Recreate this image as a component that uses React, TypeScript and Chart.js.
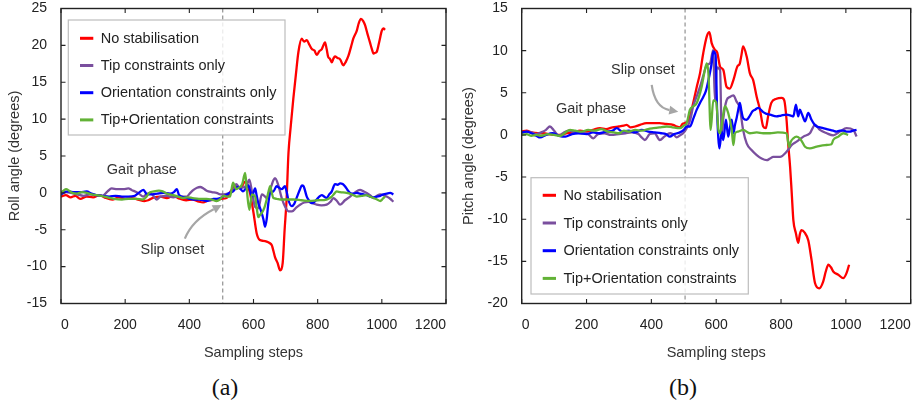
import React, { useEffect, useRef } from "react";
import { Chart, registerables } from "chart.js";

Chart.register(...registerables);

const FONT = '"Liberation Sans", Arial, Helvetica, sans-serif';

const seriesLabels = [
  "No stabilisation",
  "Tip constraints only",
  "Orientation constraints only",
  "Tip+Orientation constraints",
];
const seriesColors = ["#ff0000", "#7a4f9e", "#0000ff", "#62b236"];

const xTickStep = 200;
const xRange = [0, 1200];
const rollRange = [-15, 25];
const pitchRange = [-20, 15];
const yTickStep = 5;
const onsetStep = 504;

// ---------- Roll angle (a) ----------
const rollNoStab: [number, number][] = [
  [0,-0.5],[15,-0.3],[30,-0.6],[45,-0.4],[60,-0.8],[80,-0.5],[100,-0.6],[120,-0.3],[140,-0.7],[160,-0.9],
  [180,-0.6],[200,-0.8],[220,-0.7],[240,-0.9],[260,-1.1],[272,-1.0],[290,-0.6],[310,-0.5],[330,-0.7],[350,-0.4],
  [370,-0.8],[390,-1.0],[410,-0.9],[430,-1.2],[443,-1.3],[460,-1.0],[486,-0.9],[500,-0.8],[516,-0.7],[530,0.3],
  [545,0.9],[560,0.6],[573,1.5],[580,1.2],[589,0],[600,-2.7],[610,-5.5],[620,-6.4],[630,-6.5],[641,-6.6],
  [650,-6.8],[657,-7.1],[667,-8.7],[675,-9.5],[683,-10.5],[691,-9.5],[697,-5],[703,-1],[709,5.4],[716,9],
  [724,12.7],[732,16],[740,19.1],[750,20.9],[758,20.5],[766,20.7],[774,20.1],[782,19.5],[790,19.3],[797,18.7],
  [805,19.2],[813,19.5],[823,20.4],[828,19.5],[833,18.4],[838,18.2],[844,17.7],[849,18.2],[854,18.5],[862,18.3],
  [870,18.1],[880,17.3],[888,17.8],[896,18.6],[904,19.8],[911,20.9],[922,22],[928,23],[935,23.6],[942,23.3],
  [948,22.7],[955,21.6],[963,20.4],[969,19.5],[974,18.9],[980,19.0],[984,19.1],[992,20.5],[1000,22],[1005,22.3],[1010,22.1],
];
const rollTip: [number, number][] = [
  [0,-0.2],[15,0.1],[30,0],[50,-0.2],[70,-0.4],[90,-0.2],[110,-0.3],[130,-0.4],[145,0.2],[158,0.6],
  [175,0.5],[194,0.5],[210,0.6],[220,0.4],[240,0],[256,-0.5],[266,-0.2],[277,0],[288,-0.4],[298,-0.9],
  [310,-0.5],[330,-0.4],[350,-0.6],[370,-0.5],[392,-0.5],[403,0],[413,0.4],[424,0.7],[434,0.8],[444,0.6],
  [454,0.3],[470,0.1],[485,0],[496,-0.2],[506,-0.2],[520,-0.1],[536,0.2],[546,1.2],[557,0.7],[572,0.8],
  [580,1.2],[587,1.8],[595,0.2],[605,-1.9],[615,-2.1],[626,-0.2],[634,-0.4],[641,-0.7],[650,0.2],[657,1.1],
  [662,1.7],[667,2.0],[677,1.1],[688,-0.7],[700,-2.0],[709,-2.5],[720,-2.5],[733,-2.0],[745,-1.6],[758,-1.3],
  [771,-1.2],[784,-1.4],[797,-1.6],[812,-1.7],[828,-1.6],[840,-1.2],[849,-0.7],[860,-1.1],[870,-1.6],[885,-1.0],
  [901,-0.5],[915,0],[932,0.4],[943,0.2],[953,0],[963,-0.3],[974,-0.7],[985,-0.4],[995,-0.2],[1005,-0.3],
  [1015,-0.5],[1026,-0.8],[1036,-1.2],
];
const rollOri: [number, number][] = [
  [0,-0.2],[10,0.1],[25,0.2],[40,0.1],[60,0.1],[80,0.2],[95,-0.1],[110,-0.3],[130,-0.4],[150,-0.5],
  [170,-0.4],[190,-0.5],[210,-0.5],[230,-0.4],[245,0.1],[257,0.4],[268,-0.2],[285,-0.2],[300,-0.1],[320,0],
  [340,-0.1],[352,0.1],[361,0.5],[368,-0.3],[385,-0.6],[400,-0.8],[413,-0.9],[430,-0.9],[445,-1.0],[454,-1.1],
  [466,-1.0],[475,-0.8],[486,-0.8],[496,-0.7],[505,-0.5],[515,-0.3],[525,0],[536,0.2],[551,0.8],[560,0.5],
  [567,0.2],[576,0.6],[584,1.0],[590,0.2],[595,-0.5],[605,0.6],[610,-0.4],[615,-1.4],[620,-2.0],[626,-2.8],
  [631,-3.6],[636,-4.6],[641,-3.6],[646,-1.5],[652,0],[662,0.2],[672,0.9],[680,0.7],[688,0.5],[698,0.9],
  [704,0],[709,-1],[719,-1.8],[727,-1.5],[735,-0.6],[745,0.5],[751,1.0],[756,0.9],[766,-0.5],[774,-1.1],
  [782,-1.4],[790,-1.2],[797,-0.9],[805,-0.5],[813,-0.3],[820,-0.5],[828,-0.7],[836,-0.2],[844,0.2],[850,0.9],
  [854,1.2],[862,1.1],[870,1.3],[878,1.2],[885,0.9],[893,0.4],[901,0],[912,-0.1],[922,0],[932,-0.1],
  [943,-0.2],[953,-0.3],[963,-0.5],[974,-0.6],[984,-0.5],[995,-0.4],[1005,-0.2],[1015,-0.1],[1026,0],[1036,-0.2],
];
const rollTipOri: [number, number][] = [
  [0,0],[8,0.3],[16,0.5],[25,0.3],[35,0],[50,-0.1],[65,0.1],[80,0],[95,-0.2],[110,-0.3],
  [125,-0.4],[145,-0.6],[165,-0.8],[190,-0.9],[210,-0.8],[235,-0.8],[255,-0.9],[265,-0.6],[275,0],[290,0.2],
  [305,0.3],[317,0.2],[330,-0.1],[348,-0.3],[365,-0.5],[380,-0.7],[395,-0.6],[410,-0.7],[430,-0.8],[453,-0.8],
  [470,-0.9],[485,-1.1],[495,-0.9],[506,-0.4],[517,-0.5],[527,-0.5],[536,1.4],[546,0.5],[555,0.7],[565,1.2],
  [574,2.7],[579,0.5],[587,-2.3],[595,-0.2],[605,-0.5],[610,-2.0],[615,-3.3],[620,-3.0],[626,-2.7],[634,-2.0],
  [641,-0.9],[647,0.2],[652,0.9],[657,0],[662,-0.7],[672,-0.8],[683,-0.9],[700,-0.9],[724,-0.9],[750,-1.0],
  [776,-1.1],[800,-1.0],[828,-0.9],[837,-0.7],[844,-0.5],[852,-0.1],[859,0.2],[870,0.1],[890,0],[906,-0.2],
  [922,-0.5],[937,-0.4],[953,-0.3],[963,-0.5],[974,-0.7],[985,-0.9],[995,-1.1],[1003,-0.8],[1010,-0.5],
];

// ---------- Pitch angle (b) ----------
const pitchNoStab: [number, number][] = [
  [0,0.4],[15,0.5],[30,0.3],[50,0.2],[67,0.2],[85,0.1],[100,0],[120,0],[140,0.2],[160,0.3],
  [180,0.5],[200,0.4],[220,0.6],[241,0.8],[260,0.7],[280,0.9],[300,1.0],[315,1.1],[324,1.2],[335,0.9],
  [350,1.0],[365,1.2],[385,1.4],[405,1.4],[425,1.4],[445,1.3],[467,1.2],[478,1.0],[488,0.9],[496,1.3],
  [504,1.4],[512,1.6],[519,2.2],[529,3.8],[540,5.7],[550,7.3],[560,9.7],[571,11.7],[579,12.2],[586,10.9],
  [596,10.1],[603,9.8],[612,8.1],[622,7.7],[632,5.7],[642,5.5],[653,6.5],[665,8.1],[673,8.5],[678,9.5],
  [683,10.5],[694,9.3],[704,7.3],[714,6.5],[725,4.5],[735,3.0],[745,1.0],[753,0.8],[760,2.2],[770,3.8],
  [786,4.3],[802,4.4],[810,4.1],[817,1.8],[822,-1.0],[828,-3.8],[833,-6.9],[838,-10.1],[846,-11.7],[853,-12.8],
  [858,-11.8],[863,-11.3],[873,-11.6],[884,-12.5],[894,-14.8],[905,-17.6],[918,-18.2],[930,-17.4],[938,-16.2],[946,-15.4],
  [954,-15.7],[961,-16.2],[977,-16.6],[992,-17.0],[1002,-16.4],[1010,-15.4],
];
const pitchTip: [number, number][] = [
  [0,0.2],[15,0.4],[30,0.3],[45,0.1],[60,0.3],[75,0.6],[87,1.0],[100,0.5],[115,-0.1],[130,0.3],
  [145,0.5],[165,0.3],[185,0.2],[205,0.1],[221,-0.4],[235,0.1],[255,0.2],[275,0],[300,0.1],[320,0.2],
  [340,0.3],[360,0.1],[370,-0.3],[380,-0.6],[395,0.1],[410,0.2],[426,-0.6],[440,-0.2],[458,0.2],[470,0],
  [478,-0.3],[490,0],[498,0.2],[509,0.8],[520,1.8],[529,3.4],[540,4.6],[550,5.7],[560,7.0],[571,8.3],
  [581,8.5],[591,10.1],[596,4.1],[602,8.0],[612,7.7],[617,-0.2],[622,2.0],[632,4.1],[642,4.5],[653,4.7],
  [663,3.95],[673,3.2],[683,0.6],[694,-1.0],[709,-1.8],[725,-2.4],[740,-2.8],[756,-3.0],[766,-2.8],[776,-2.6],
  [797,-2.6],[817,-2.0],[833,-1.2],[848,-0.8],[869,-0.2],[889,0.2],[905,1.2],[920,0.6],[941,0.2],[961,-0.05],
  [982,0.4],[1002,0.8],[1023,0.6],[1033,-0.2],
];
const pitchOri: [number, number][] = [
  [0,0.3],[15,0.4],[30,0.2],[45,-0.1],[57,-0.3],[75,0],[95,0.2],[115,-0.1],[135,-0.2],[155,0.1],
  [175,0.2],[200,0.1],[220,0.3],[240,0.2],[260,0.4],[280,0.5],[293,0.8],[310,0.4],[330,0.5],[350,0.3],
  [370,0.6],[390,0.4],[410,0.3],[430,0.2],[445,0.1],[457,-0.2],[470,0.1],[488,0.3],[500,0.6],[509,1.0],
  [519,1.0],[530,2.0],[540,3.0],[550,3.8],[560,4.5],[568,5.2],[576,6.5],[586,8.5],[591,9.9],[598,9.5],
  [603,2.6],[610,-1.6],[617,0.4],[622,-0.6],[630,1.8],[637,-0.2],[642,0.8],[648,1.8],[653,0.2],[658,1.2],
  [663,2.0],[668,3.0],[673,3.8],[678,2.8],[683,2.0],[694,1.8],[704,2.3],[712,2.8],[720,3.0],[730,3.2],
  [745,2.7],[755,2.5],[766,2.4],[786,2.2],[800,2.3],[817,2.4],[830,2.3],[838,2.2],[846,3.6],[853,2.2],
  [858,3.0],[864,2.5],[869,2.0],[874,1.6],[884,2.6],[894,1.8],[902,1.3],[910,1.0],[920,0.9],[930,0.8],
  [941,0.7],[951,0.6],[961,0.5],[971,0.4],[982,0.5],[992,0.5],[1002,0.4],[1012,0.4],[1022,0.5],[1033,0.6],
];
const pitchTipOri: [number, number][] = [
  [0,0],[15,0.1],[30,-0.1],[45,0],[60,-0.1],[80,0.1],[100,0],[120,-0.1],[135,0.3],[149,0.6],
  [165,0.5],[185,0.4],[205,0.6],[225,0.5],[245,0.7],[265,0.4],[285,0.3],[300,0.2],[315,0.5],[330,0.4],
  [350,0.6],[370,0.5],[390,0.7],[406,0.8],[425,0.9],[447,1.0],[465,0.9],[488,0.8],[500,1.1],[509,1.4],
  [519,3.0],[530,3.4],[540,3.8],[555,5.7],[565,7.7],[571,8.5],[576,7.3],[583,0.6],[591,4.1],[600,3.9],
  [607,0.6],[612,0.2],[620,2.0],[627,3.4],[637,2.6],[648,0.6],[653,-1.2],[658,0.2],[668,0.4],[683,0.6],
  [704,0.2],[725,0.3],[745,0.2],[766,0.2],[790,0.3],[817,0.2],[825,-1.4],[830,-0.8],[838,-0.4],[848,-0.2],
  [860,-0.5],[874,-1.4],[889,-1.6],[910,-1.4],[936,-1.2],[956,-1.1],[961,-0.6],[977,-0.2],[992,0.2],[1007,0],
];

// annotation anchors in data coordinates
const rollGaitText = { x: 252, y: 3.1 };
const rollSlipText = { x: 347, y: -7.75 };
const rollArrow = { from: [386, -6.2], ctrl: [409, -3.7], to: [501, -1.65] };
const pitchGaitText = { x: 214, y: 3.1 };
const pitchSlipText = { x: 374, y: 7.7 };
const pitchArrow = { from: [401, 5.93], ctrl: [411, 3.24], to: [483, 2.76] };

const decorPlugin = {
  id: "decor",
  beforeDatasetsDraw(chart: any, _a: any, o: any) {
    const { ctx, chartArea: ca, scales } = chart;
    const x = scales.x.getPixelForValue(o.onset);
    ctx.save();
    ctx.strokeStyle = "#9a9a9a";
    ctx.lineWidth = 1.3;
    ctx.setLineDash([4, 3]);
    ctx.beginPath();
    ctx.moveTo(x, ca.top);
    ctx.lineTo(x, ca.bottom);
    ctx.stroke();
    ctx.restore();
  },
  afterDatasetsDraw(chart: any, _a: any, o: any) {
    const { ctx, chartArea: ca, scales } = chart;
    const xs = scales.x, ys = scales.y;
    ctx.save();
    // legend box
    const L = o.legend;
    const bx = ca.left + L.dx, by = ca.top + L.dy;
    ctx.fillStyle = "rgba(255,255,255,0.82)";
    ctx.fillRect(bx, by, L.w, L.h);
    ctx.strokeStyle = "#bdbdbd";
    ctx.lineWidth = 1.2;
    ctx.strokeRect(bx, by, L.w, L.h);
    ctx.font = `14.5px ${FONT}`;
    ctx.textBaseline = "middle";
    ctx.textAlign = "left";
    chart.data.datasets.forEach((ds: any, i: number) => {
      const ry = by + L.first + i * L.gap;
      ctx.strokeStyle = ds.borderColor;
      ctx.lineWidth = 3;
      ctx.beginPath();
      ctx.moveTo(bx + 11.7, ry);
      ctx.lineTo(bx + 25, ry);
      ctx.stroke();
      ctx.fillStyle = "#222";
      ctx.fillText(ds.label, bx + 32.4, ry + 0.5);
    });
    // frame
    ctx.strokeStyle = "#222";
    ctx.lineWidth = 1.4;
    ctx.strokeRect(ca.left, ca.top, ca.right - ca.left, ca.bottom - ca.top);
    // inward ticks on all four sides
    ctx.lineWidth = 1.1;
    ctx.beginPath();
    xs.ticks.forEach((t: any) => {
      const px = xs.getPixelForValue(t.value);
      ctx.moveTo(px, ca.bottom); ctx.lineTo(px, ca.bottom - 4.5);
      ctx.moveTo(px, ca.top); ctx.lineTo(px, ca.top + 4.5);
    });
    ys.ticks.forEach((t: any) => {
      const py = ys.getPixelForValue(t.value);
      ctx.moveTo(ca.left, py); ctx.lineTo(ca.left + 4.5, py);
      ctx.moveTo(ca.right, py); ctx.lineTo(ca.right - 4.5, py);
    });
    ctx.stroke();
    // text annotations
    ctx.fillStyle = "#333";
    ctx.textAlign = "center";
    ctx.font = `14.5px ${FONT}`;
    ctx.fillText("Gait phase", xs.getPixelForValue(o.gait.x), ys.getPixelForValue(o.gait.y));
    ctx.fillText("Slip onset", xs.getPixelForValue(o.slip.x), ys.getPixelForValue(o.slip.y));
    // curved arrow
    const A = o.arrow;
    const p0 = [xs.getPixelForValue(A.from[0]), ys.getPixelForValue(A.from[1])];
    const pc = [xs.getPixelForValue(A.ctrl[0]), ys.getPixelForValue(A.ctrl[1])];
    const p1 = [xs.getPixelForValue(A.to[0]), ys.getPixelForValue(A.to[1])];
    const ang = Math.atan2(p1[1] - pc[1], p1[0] - pc[0]);
    const hl = 9, hw = 4.5;
    const base = [p1[0] - Math.cos(ang) * hl, p1[1] - Math.sin(ang) * hl];
    ctx.strokeStyle = "#a6a6a6";
    ctx.fillStyle = "#a6a6a6";
    ctx.lineWidth = 2.2;
    ctx.beginPath();
    ctx.moveTo(p0[0], p0[1]);
    ctx.quadraticCurveTo(pc[0], pc[1], base[0], base[1]);
    ctx.stroke();
    ctx.beginPath();
    ctx.moveTo(p1[0], p1[1]);
    ctx.lineTo(base[0] + Math.sin(ang) * hw, base[1] - Math.cos(ang) * hw);
    ctx.lineTo(base[0] - Math.sin(ang) * hw, base[1] + Math.cos(ang) * hw);
    ctx.closePath();
    ctx.fill();
    ctx.restore();
  },
};

type PanelProps = {
  series: [number, number][][];
  yRange: number[];
  yTitle: string;
  yAxisWidth: number;
  yTitlePad: number;
  padRight: number;
  width: number;
  left: number;
  gait: { x: number; y: number };
  slip: { x: number; y: number };
  arrow: any;
  legend: any;
};

const CANVAS_H = 365;
const X_AXIS_H = 61.5;
const PLOT_TOP = 8.5;

function Panel(p: PanelProps) {
  const ref = useRef<HTMLCanvasElement | null>(null);
  useEffect(() => {
    if (!ref.current) return;
    const chart = new Chart(ref.current, {
      type: "line",
      data: {
        datasets: p.series.map((s, i) => ({
          label: seriesLabels[i],
          data: s.map(([x, y]) => ({ x, y })),
          borderColor: seriesColors[i],
          backgroundColor: seriesColors[i],
          borderWidth: 2.3,
          pointRadius: 0,
          cubicInterpolationMode: "monotone" as const,
          order: 4 - i,
        })),
      },
      options: {
        responsive: false,
        animation: false,
        events: [],
        layout: { padding: { top: 0, right: p.padRight, bottom: 0, left: 0 } },
        plugins: {
          legend: { display: false },
          tooltip: { enabled: false },
          decor: { onset: onsetStep, gait: p.gait, slip: p.slip, arrow: p.arrow, legend: p.legend },
        } as any,
        scales: {
          x: {
            type: "linear",
            min: xRange[0],
            max: xRange[1],
            grid: { display: false, drawTicks: false },
            border: { display: false },
            ticks: {
              stepSize: xTickStep,
              color: "#222",
              font: { family: FONT, size: 14 },
              padding: 13,
              maxRotation: 0,
              align: "inner",
              callback: (v: any) => String(v),
            },
            title: {
              display: true,
              text: "Sampling steps",
              color: "#333",
              font: { family: FONT, size: 14.5 },
              padding: { top: 0, bottom: 3.3 },
            },
            afterFit: (s: any) => {
              s.height = X_AXIS_H;
              s.paddingLeft = 0;
              s.paddingRight = 0;
            },
          },
          y: {
            type: "linear",
            min: p.yRange[0],
            max: p.yRange[1],
            grid: { display: false, drawTicks: false },
            border: { display: false },
            ticks: {
              stepSize: yTickStep,
              color: "#222",
              font: { family: FONT, size: 14 },
              padding: 14,
              callback: (v: any) => String(v),
            },
            title: {
              display: true,
              text: p.yTitle,
              color: "#333",
              font: { family: FONT, size: 14.5 },
              padding: { top: p.yTitlePad, bottom: 0 },
            },
            afterFit: (s: any) => {
              s.width = p.yAxisWidth;
              s.paddingTop = PLOT_TOP;
              s.paddingBottom = 0;
            },
          },
        },
      } as any,
      plugins: [decorPlugin as any],
    });
    return () => chart.destroy();
  }, []);
  return (
    <canvas
      ref={ref}
      width={p.width}
      height={CANVAS_H}
      style={{ position: "absolute", left: p.left, top: 0, width: p.width, height: CANVAS_H }}
    />
  );
}

const captionStyle: React.CSSProperties = {
  position: "absolute",
  top: 375,
  width: 80,
  textAlign: "center",
  fontFamily: '"Liberation Serif", "DejaVu Serif", serif',
  fontSize: 24,
  lineHeight: "24px",
  color: "#111",
};

export default function App() {
  return (
    <div style={{ position: "absolute", left: 0, top: 0, width: 917, height: 405, background: "#fff", overflow: "hidden" }}>
      <Panel
        series={[rollNoStab, rollTip, rollOri, rollTipOri]}
        yRange={rollRange}
        yTitle="Roll angle (degrees)"
        yAxisWidth={61}
        yTitlePad={6.3}
        padRight={14}
        width={460}
        left={0}
        gait={rollGaitText}
        slip={rollSlipText}
        arrow={rollArrow}
        legend={{ dx: 7.3, dy: 11.5, w: 216.7, h: 115, first: 18.3, gap: 27.2 }}
      />
      <Panel
        series={[pitchNoStab, pitchTip, pitchOri, pitchTipOri]}
        yRange={pitchRange}
        yTitle="Pitch angle (degrees)"
        yAxisWidth={61.7}
        yTitlePad={0}
        padRight={6.3}
        width={457}
        left={460}
        gait={pitchGaitText}
        slip={pitchSlipText}
        arrow={pitchArrow}
        legend={{ dx: 9.3, dy: 169.2, w: 217.3, h: 116.3, first: 17.6, gap: 27.7 }}
      />
      <div style={{ ...captionStyle, left: 185 }}>(a)</div>
      <div style={{ ...captionStyle, left: 643 }}>(b)</div>
    </div>
  );
}
